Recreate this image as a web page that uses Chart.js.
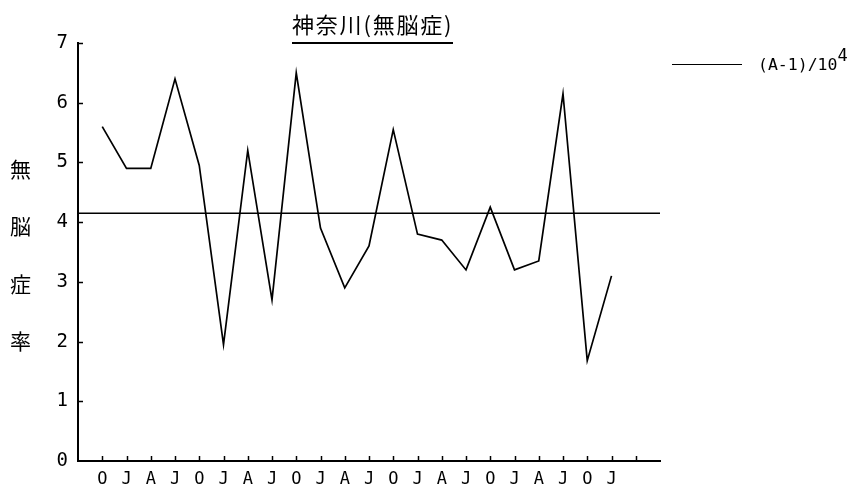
<!DOCTYPE html>
<html lang="ja">
<head>
<meta charset="utf-8">
<title>神奈川(無脳症)</title>
<script src="https://cdn.jsdelivr.net/npm/chart.js@4/dist/chart.umd.min.js"></script>
<style>
  html, body { margin: 0; padding: 0; background: #fff; }
  #wrap { position: relative; width: 858px; height: 488px; overflow: hidden; }
  #c { position: absolute; left: 0; top: 0; }
  .jp { position: absolute; font-family: "Noto Sans CJK JP", sans-serif; color: #000; line-height: 1; }
  #title { left: 292px; top: 12px; font-size: 22px; letter-spacing: 1.8px; padding-bottom: 8px; border-bottom: 2px solid #000; white-space: nowrap; }
  .ych { left: 10px; font-size: 21px; }
  #legend { position: absolute; left: 672px; top: 48px; height: 30px; font-family: "DejaVu Sans Mono", monospace; font-size: 16.5px; color: #000; white-space: nowrap; }
  #legend .swatch { position: absolute; left: 0; top: 16px; width: 70px; border-top: 1.5px solid #000; }
  #legend .txt { position: absolute; left: 86px; top: 7px; }
  #legend sup { font-size: 17px; position: relative; top: -3px; vertical-align: super; line-height: 0; }
</style>
</head>
<body>
<div id="wrap">
  <canvas id="c" width="858" height="488"></canvas>
  <div id="title" class="jp">神奈川(無脳症)</div>
  <div class="jp ych" style="top:158px">無</div>
  <div class="jp ych" style="top:215px">脳</div>
  <div class="jp ych" style="top:273px">症</div>
  <div class="jp ych" style="top:330px">率</div>
  <div id="legend"><div class="swatch"></div><div class="txt">(A-1)/10<sup>4</sup></div></div>
</div>
<script>
// Quarter labels along the time axis (Oct, Jan, Apr, Jul ...)
const quarterLabels = ['O','J','A','J','O','J','A','J','O','J','A','J','O','J','A','J','O','J','A','J','O','J'];
// Anencephaly rate per quarter
const rateValues = [5.6, 4.9, 4.9, 6.4, 4.95, 1.95, 5.2, 2.7, 6.5, 3.9, 2.9, 3.6, 5.55, 3.8, 3.7, 3.2, 4.25, 3.2, 3.35, 6.15, 1.68, 3.1];
// Reference level (A-1)/10^4
const referenceLevel = 4.15;
const yTicks = [0, 1, 2, 3, 4, 5, 6, 7];

const ratePoints = rateValues.map((v, i) => ({ x: i, y: v }));
const refPoints = [{ x: -1, y: referenceLevel }, { x: 23, y: referenceLevel }];

// Short tick marks drawn on the inner side of both axes
const innerTicks = {
  id: 'innerTicks',
  afterDraw(chart) {
    const { ctx, scales: { x, y } } = chart;
    ctx.save();
    ctx.strokeStyle = '#000';
    ctx.lineWidth = 1.5;
    ctx.beginPath();
    for (let i = 0; i <= quarterLabels.length; i++) {
      const px = Math.round(x.getPixelForValue(i)) + 0.5;
      ctx.moveTo(px, y.bottom);
      ctx.lineTo(px, y.bottom - 5);
    }
    yTicks.forEach(t => {
      if (t === 0) return;
      const py = Math.round(y.getPixelForValue(t)) + 0.5;
      ctx.moveTo(x.left, py);
      ctx.lineTo(x.left + 5, py);
    });
    ctx.stroke();
    ctx.restore();
  }
};

new Chart(document.getElementById('c'), {
  type: 'line',
  data: {
    datasets: [
      { label: '無脳症率', data: ratePoints, borderColor: '#000', borderWidth: 1.7, pointRadius: 0, tension: 0, fill: false },
      { label: '(A-1)/10⁴', data: refPoints, borderColor: '#000', borderWidth: 1.6, pointRadius: 0, tension: 0, fill: false }
    ]
  },
  options: {
    responsive: false,
    animation: false,
    events: [],
    layout: { padding: { left: 0, top: 43, right: 198, bottom: 0 } },
    plugins: { legend: { display: false }, title: { display: false }, tooltip: { enabled: false } },
    scales: {
      x: {
        type: 'linear',
        min: -1,
        max: 23,
        afterFit(scale) { scale.height = 27; },
        afterBuildTicks(scale) {
          scale.ticks = quarterLabels.map((_, i) => ({ value: i }));
        },
        grid: { display: false, drawTicks: false },
        border: { display: true, color: '#000', width: 2 },
        ticks: {
          autoSkip: false,
          maxRotation: 0,
          padding: 8,
          color: '#000',
          font: { family: 'DejaVu Sans Mono', size: 17 },
          callback: (v) => quarterLabels[v] ?? ''
        }
      },
      y: {
        min: 0,
        max: 7,
        afterFit(scale) { scale.width = 78; },
        afterBuildTicks(scale) {
          scale.ticks = yTicks.map(v => ({ value: v }));
        },
        grid: { display: false, drawTicks: false },
        border: { display: true, color: '#000', width: 2 },
        ticks: {
          padding: 10,
          color: '#000',
          font: { family: 'DejaVu Sans Mono', size: 19 },
          callback: (v) => String(v)
        }
      }
    }
  },
  plugins: [innerTicks]
});
</script>
</body>
</html>
